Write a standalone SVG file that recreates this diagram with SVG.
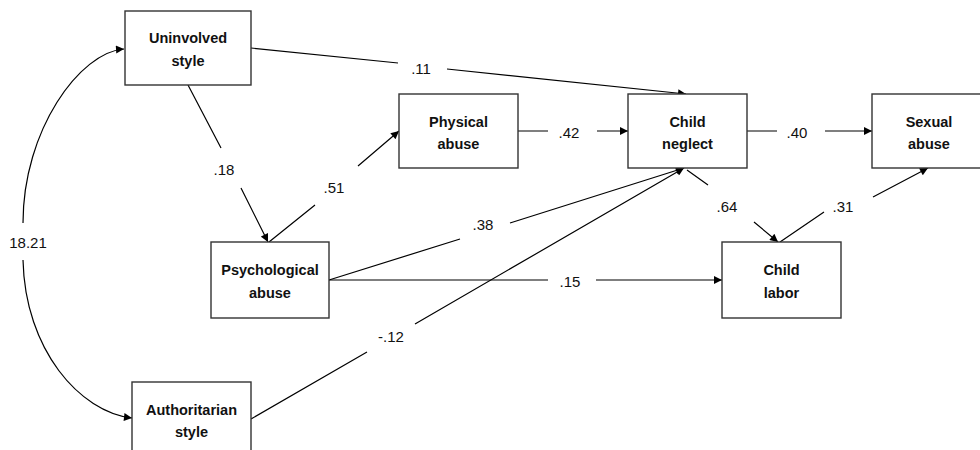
<svg xmlns="http://www.w3.org/2000/svg" width="980" height="450" viewBox="0 0 980 450">
<defs>
<marker id="ah" viewBox="0 0 10 10" refX="10" refY="5" markerWidth="10" markerHeight="8" markerUnits="userSpaceOnUse" orient="auto">
<path d="M0,0 L10,5 L0,10 z" fill="#000"/>
</marker>
</defs>
<style>
.box{fill:#fff;stroke:#333;stroke-width:1.4}
.nt{font-family:"Liberation Sans",Arial,sans-serif;font-weight:bold;font-size:14.5px;text-anchor:middle;fill:#111}
.lb{font-family:"Liberation Sans",Arial,sans-serif;font-size:15px;text-anchor:middle;fill:#111}
.ln{fill:none;stroke:#000;stroke-width:1.2;marker-end:url(#ah)}
</style>
<rect width="980" height="450" fill="#fff"/>
<g id="connectors">
<path class="ln" d="M251,48 L398,63 M447,69 L686,94"/>
<path class="ln" d="M188,85 L221,148 M241,188 L268,242"/>
<path class="ln" d="M269,242 L315,205 M358,166 L399,131"/>
<path class="ln" d="M518,131 L548,131 M597,131 L628,131"/>
<path class="ln" d="M329,280 L460,239 M510,223 L684,168"/>
<path class="ln" d="M329,280 L548,280 M596,280 L722,280"/>
<path class="ln" d="M251,419 L367,352 M415,324 L684,168"/>
<path class="ln" d="M747,131 L777,131 M825,131 L872,131"/>
<path class="ln" d="M687,170 L708,185 M754,222 L778,242"/>
<path class="ln" d="M780,242 L824,212 M873,197 L928,168"/>
<path class="ln" d="M23,223 C23,130 80,52 124,49"/>
<path class="ln" d="M23,260 C25,350 80,412 132,418"/>
<text class="lb" x="421" y="74">.11</text>
<text class="lb" x="224" y="175">.18</text>
<text class="lb" x="334" y="193">.51</text>
<text class="lb" x="569" y="138">.42</text>
<text class="lb" x="483" y="230">.38</text>
<text class="lb" x="570" y="287">.15</text>
<text class="lb" x="391" y="342">-.12</text>
<text class="lb" x="797" y="138">.40</text>
<text class="lb" x="727" y="212">.64</text>
<text class="lb" x="843" y="212">.31</text>
<text class="lb" x="28" y="248">18.21</text>
</g>
<g id="uninvolved"><rect class="box" x="125" y="11" width="126" height="74"/><text class="nt" x="188" y="43">Uninvolved</text><text class="nt" x="188" y="66">style</text></g>
<g id="physical"><rect class="box" x="399" y="94" width="119" height="74"/><text class="nt" x="458.5" y="127">Physical</text><text class="nt" x="458.5" y="149">abuse</text></g>
<g id="neglect"><rect class="box" x="628" y="94" width="119" height="74"/><text class="nt" x="687.5" y="127">Child</text><text class="nt" x="687.5" y="149">neglect</text></g>
<g id="sexual"><rect class="box" x="872" y="94" width="119" height="74"/><text class="nt" x="929" y="127">Sexual</text><text class="nt" x="929" y="149">abuse</text></g>
<g id="psych"><rect class="box" x="211" y="242" width="118" height="76"/><text class="nt" x="270" y="275">Psychological</text><text class="nt" x="270" y="298">abuse</text></g>
<g id="labor"><rect class="box" x="722" y="242" width="119" height="76"/><text class="nt" x="781.5" y="275">Child</text><text class="nt" x="781.5" y="298">labor</text></g>
<g id="authoritarian"><rect class="box" x="132" y="382" width="119" height="76"/><text class="nt" x="191.5" y="415">Authoritarian</text><text class="nt" x="191.5" y="437">style</text></g>
</svg>
